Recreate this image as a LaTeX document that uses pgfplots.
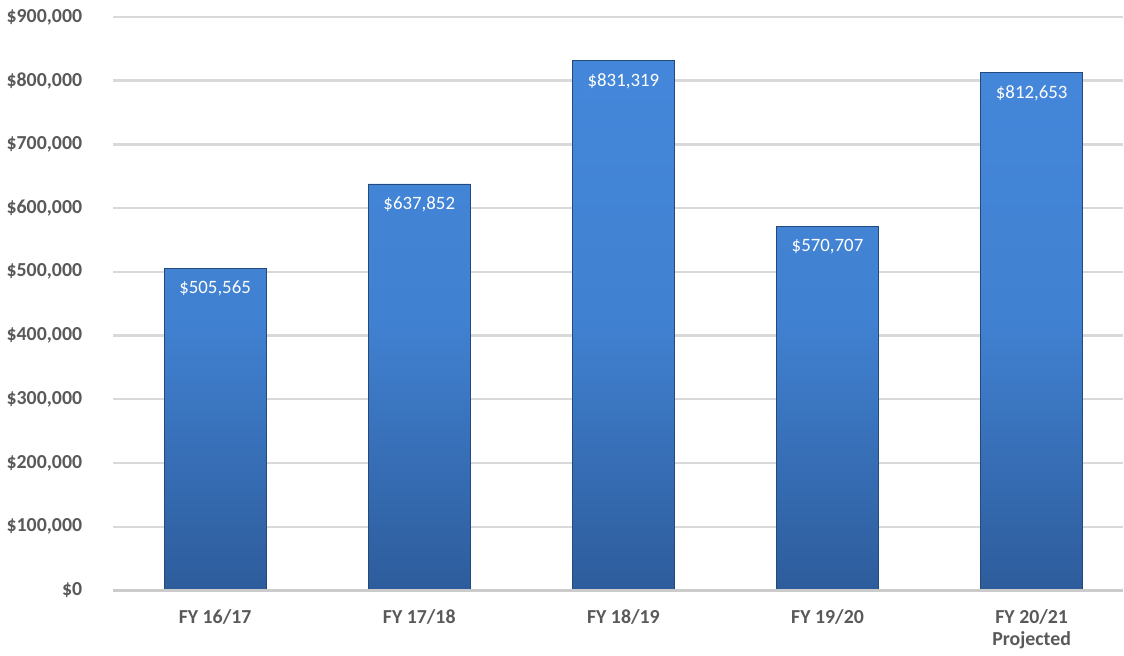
\documentclass[border=0pt]{standalone}
\usepackage{pgfplots}
\pgfplotsset{compat=1.18}
\usepackage{pgfplotstable}
\usepackage{fontspec}
\setmainfont{Carlito}
\definecolor{tickgray}{HTML}{595959}
\definecolor{gridgray}{HTML}{D9D9D9}
\definecolor{bartop}{HTML}{4487DA}
\definecolor{barbot}{HTML}{2D5C9B}
\pgfplotstableread{
x y lab
0 505565 {\$505,565}
1 637852 {\$637,852}
2 831319 {\$831,319}
3 570707 {\$570,707}
4 812653 {\$812,653}
}\datatable
\begin{document}
\begin{tikzpicture}
\begin{axis}[
  scale only axis,
  width=507bp, height=288bp,
  xmin=-0.5, xmax=4.446,
  ymin=0, ymax=900000,
  ybar, bar width=0.5,
  clip=false,
  axis line style={draw=none},
  ymajorgrids, grid style={gridgray, line width=1.2pt},
  ytick={0,100000,...,900000},
  xtick=data,
  xticklabels={FY 16/17,FY 17/18,FY 18/19,FY 19/20,{FY 20/21\\Projected}},
  xticklabel style={align=center, font=\fontsize{10}{11}\selectfont\bfseries, text=tickgray},
  yticklabel style={font=\fontsize{10}{11}\selectfont\bfseries, text=tickgray},
  scaled y ticks=false,
  /pgf/number format/assume math mode=true,
  yticklabel={\$\pgfmathprintnumber[fixed,1000 sep={,}]{\tick}},
  major tick length=0pt,
  xticklabel shift=6bp,
  yticklabel shift=12bp,
  nodes near coords,
  point meta=explicit symbolic,
  every node near coord/.append style={anchor=north, yshift=-3bp, text=white, font=\fontsize{9.5}{11}\selectfont},
]
\addplot[draw=barbot!80!black, line width=0.3pt, top color=bartop, bottom color=barbot, middle color=bartop!85!barbot]
  table[x=x, y=y, meta=lab] {\datatable};
\draw[gridgray!85!gray, line width=1.3pt] (axis cs:-0.5,0) -- (axis cs:4.446,0);
\path (axis description cs:-0.1085,-0.1024) rectangle (axis description cs:1.0,1.0295);
\end{axis}
\end{tikzpicture}
\end{document}
